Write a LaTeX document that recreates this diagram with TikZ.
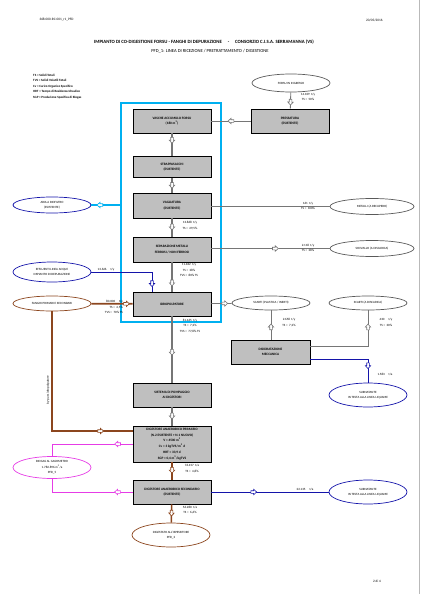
\documentclass[tikz,border=0pt]{standalone}
\usepackage{fontspec}
\setmainfont{Carlito}
\usetikzlibrary{positioning, arrows.meta, shapes.geometric, decorations.markings}
\definecolor{boxgray}{RGB}{191,191,191}
\definecolor{linegray}{RGB}{118,118,118}
\definecolor{rimgray}{RGB}{90,90,90}
\definecolor{cyanline}{RGB}{0,176,240}
\definecolor{blueline}{RGB}{20,20,170}
\definecolor{brownline}{RGB}{140,70,30}
\definecolor{gasline}{RGB}{230,60,230}
\newcommand\tinyfont{\fontsize{3.2}{5.6}\selectfont}
\newcommand\boxfont{\fontsize{3.4}{5.7}\selectfont\bfseries}

\begin{document}
\begin{tikzpicture}[x=1pt, y=-1pt, >=Stealth,
    box/.style={draw=black, fill=boxgray, line width=0.9pt, minimum width=78pt,
      minimum height=24pt, inner sep=1pt, align=center, font=\boxfont},
    stream/.style={ellipse, draw=#1, fill=white, line width=0.7pt, minimum width=78pt,
      minimum height=16pt, inner sep=0pt, align=center, font=\tinyfont},
    qty/.style={inner sep=0pt, align=center, font=\tinyfont},
    pipe/.style={draw=#1, line width=0.8pt},
    spine/.style={draw=#1, line width=1.4pt},
    flowtip/.style 2 args={postaction={decorate, decoration={markings,
      mark=at position #1 with {\draw[draw=#2, fill=white, line width=0.6pt]
        (-2.8,-1.3) -- (0,-1.3) -- (0,-2.7) -- (3,0) -- (0,2.7) -- (0,1.3) -- (-2.8,1.3) -- cycle;}}}}]
  \useasboundingbox (0,0) rectangle (424,594);
  \draw[gray!55, line width=1pt] (419.5,0) -- (419.5,594);

  % intestazione
  \node[font=\fontsize{3.4}{4}\selectfont, anchor=west] (docid) at (36,20) {368-000-RC-001\_r1\_PFD};
  \node[font=\fontsize{3.4}{4}\selectfont, anchor=east] (docdate) at (386,20) {20/05/2016};
  \node[font=\fontsize{4.8}{5}\selectfont\bfseries] (title) at (204,42)
    {IMPIANTO DI CO-DIGESTIONE FORSU - FANGHI DI DEPURAZIONE \quad - \quad CONSORZIO C.I.S.A. SERRAMANNA (VS)};
  \node[font=\fontsize{4.6}{5}\selectfont] (subtitle) at (210,51)
    {PFD\_1: LINEA DI RICEZIONE / PRETRATTAMENTO / DIGESTIONE};
  \node[anchor=north west, align=left, inner sep=0pt, font=\fontsize{3.2}{5.4}\selectfont\bfseries] (legend) at (33,74)
    {TS = Solidi Totali\\TVS = Solidi Volatili Totali\\Cv = Carico Organico Specifico\\
     HRT = Tempo di Residenza Idraulico\\SGP = Produzione Specifica di Biogas};
  \node[font=\fontsize{3.4}{4}\selectfont] (pagenum) at (377,581) {2 di 4};

  % capannone
  \node[draw=cyanline, line width=1.8pt, minimum width=100pt, minimum height=219pt, inner sep=0pt] (capannone) at (171,212.5) {};

  % sezioni
  \node[box] (vasche) at (172,121) {VASCHE ACCUMULO FORSU\\(180 m\textsuperscript{3})};
  \node[box, minimum height=21pt] (strappa) at (172,167) {STRAPPASACCHI\\(ESISTENTE)};
  \node[box, minimum height=25pt] (vagli) at (172,205.5) {VAGLIATURA\\(ESISTENTE)};
  \node[box, minimum height=25pt] (separ) at (172,249.5) {SEPARAZIONE METALLI\\FERROSI / NON FERROSI};
  \node[box] (idro) at (172,304) {IDROPOLPATORE};
  \node[box] (pompe) at (172,395) {SISTEMA DI POMPAGGIO\\AI DIGESTORI};
  \node[box, minimum height=36pt] (primario) at (172,444)
    {DIGESTORE ANAEROBICO PRIMARIO\\(N.2 ESISTENTE + N.1 NUOVO)\\V = 4500 m\textsuperscript{3}\\
     Cv = 3 kgTVS/m\textsuperscript{3} d\\HRT = 33,9 d\\SGP = 0,4 m\textsuperscript{3}/kgTVS};
  \node[box] (secondario) at (172,492) {DIGESTORE ANAEROBICO SECONDARIO\\(ESISTENTE)};
  \node[box] (press) at (290,121) {PRESSATURA\\(ESISTENTE)};
  \node[box, minimum width=79pt] (disid) at (270.5,352) {DISIDRATAZIONE\\MECCANICA};

  % flussi in ingresso e in uscita
  \node[stream=rimgray, minimum height=18pt] (forsu) at (291,83) {FORSU IN INGRESSO};
  \node[stream=blueline] (aria) at (52,205) {ARIA A BIOFILTRO\\(ESISTENTE)};
  \node[stream=rimgray, minimum width=84pt] (metalli) at (372,206.5) {METALLI (A RECUPERO)};
  \node[stream=rimgray, minimum width=84pt] (sovvallo) at (372,248.5) {SOVVALLO (A DISCARICA)};
  \node[stream=blueline, minimum height=20pt] (effluenti) at (52,272) {EFFLUENTI LINEA ACQUE\\IMPIANTO DI DEPURAZIONE};
  \node[stream=brownline, minimum height=15pt] (fanghi) at (52,303.5) {FANGHI PRIMARI E SECONDARI};
  \node[stream=rimgray, minimum height=14pt] (scartiA) at (271,303) {SCARTI (PLASTICA / INERTI)};
  \node[stream=rimgray, minimum height=14pt] (scartiB) at (368,303) {SCARTI (A DISCARICA)};
  \node[stream=blueline, minimum height=24pt] (surnA) at (368,395) {SURNATANTE\\IN TESTA ALLA LINEA LIQUAME};
  \node[stream=blueline, minimum height=24pt] (surnB) at (368,492) {SURNATANTE\\IN TESTA ALLA LINEA LIQUAME};
  \node[stream=gasline, minimum height=22pt] (biogas) at (52,467.5) {BIOGAS AL GASOMETRO\\1.782.896 m\textsuperscript{3}/a\\PFD\_5};
  \node[stream=brownline, minimum height=24pt] (digestato) at (171,535) {DIGESTATO ALL'ISPESSITORE\\PFD\_2};

  % linea principale
  \foreach \a/\b/\p in {vasche/strappa/0.3, strappa/vagli/0.5, vagli/separ/0.47,
                        separ/idro/0.7, idro/pompe/0.54, pompe/primario/0.47}
    \draw[spine=linegray, flowtip={\p}{linegray}] (\a) -- (\b);
  \foreach \a/\b/\p in {primario/secondario/0.45, secondario/digestato/0.47}
    \draw[spine=brownline, flowtip={\p}{brownline}] (\a) -- (\b);

  % collegamenti laterali
  \draw[pipe=linegray, flowtip={0.6}{linegray}] (forsu) -- (press);
  \draw[pipe=linegray, flowtip={0.5}{linegray}] (press) -- (vasche);
  \draw[line width=1.8pt, cyanline, flowtip={0.7}{cyanline}] (capannone.west |- aria.east) -- (aria);
  \draw[line width=1.6pt, linegray] (vagli.east |- metalli.west) -- (metalli);
  \draw[pipe=linegray, flowtip={0.54}{linegray}] (separ.east |- sovvallo.west) -- (sovvallo);
  \draw[pipe=blueline, flowtip={0.9}{blueline}] (effluenti) -| ([xshift=-20pt]idro.north);
  \draw[spine=brownline, line width=1.8pt, flowtip={0.85}{brownline}] (fanghi) -- (idro);
  \draw[spine=brownline, line width=1.8pt, flowtip={0.84}{brownline}] (fanghi) |- ([yshift=13pt]primario.west);
  \draw[pipe=linegray, flowtip={0.65}{linegray}] (idro) -- (scartiA);
  \draw[pipe=linegray, flowtip={0.43}{linegray}] (disid.north -| scartiA.south) -- (scartiA);
  \draw[pipe=linegray, flowtip={0.82}{linegray}] ([yshift=6pt]disid.east) -| (scartiB);
  \draw[pipe=blueline, flowtip={0.79}{blueline}] ([yshift=-7pt]disid.east) -| (surnA);
  \draw[pipe=gasline, flowtip={0.16}{gasline}] (primario.west) -| (biogas);
  \draw[pipe=gasline, flowtip={0.16}{gasline}] (secondario.west) -| (biogas);
  \draw[pipe=blueline, flowtip={0.36}{blueline}] (secondario) -- (surnB);

  % portate
  \node[qty] (q-forsu) at (308,97) {14.109 \ t/y\\TS = \ 50\%};
  \node[qty] (q-vagli) at (190,225.5) {13.868 \ t/y\\TS = \ 29,5\%};
  \node[qty] (q-separ) at (189,270) {11.482 \ t/y\\TS = \ 28\%\\TVS = \ 80\% TS};
  \node[qty] (q-idro) at (190,326) {81.465 \ t/y\\TS = \ 7,2\%\\TVS = \ 77,8\% TS};
  \node[qty] (q-effl) at (106,270) {13.626 \quad t/y};
  \node[qty, align=right, anchor=east] (q-fanghi) at (123,307) {80.000 \quad t/y\\TS = \ 4,5\%\\TVS = \ 70\% TS};
  \node[qty] (q-metalli) at (308,206) {161 \ t/y\\TS = \ 100\%};
  \node[qty] (q-sovvallo) at (308,248) {2.118 \ t/y\\TS = \ 28\%};
  \node[qty] (q-scartiA) at (289,322.5) {2.658 \ t/y\\TS = \ 7,2\%};
  \node[qty] (q-scartiB) at (386,322.5) {430 \quad t/y\\TS = \ 30\%};
  \node[qty] (q-surnA) at (385,374) {1.583 \quad t/a};
  \node[qty] (q-primario) at (192,468.5) {76.457 \ t/a\\TS = \ 4,8\%};
  \node[qty] (q-surnB) at (305,489) {22.135 \quad t/a};
  \node[qty] (q-secondario) at (190,510) {56.280 \ t/a\\TS = \ 6,6\%};
  \node[qty, rotate=90] (bypass) at (48,390) {by-pass idropolpatore};
\end{tikzpicture}
\end{document}
